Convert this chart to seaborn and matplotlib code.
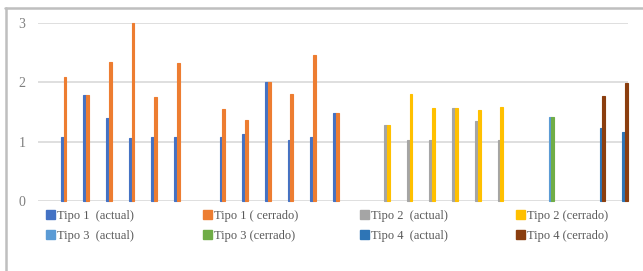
import matplotlib
matplotlib.use("Agg")
import matplotlib.pyplot as plt
from matplotlib.lines import Line2D
from matplotlib.patches import Patch
import numpy as np
import pandas as pd
import seaborn as sns

# 26 categories on the x axis (no tick labels in the original)
categories = [str(i) for i in range(1, 27)]

series = [
    "Tipo 1  (actual)", "Tipo 1 ( cerrado)", "Tipo 2  (actual)", "Tipo 2 (cerrado)",
    "Tipo 3  (actual)", "Tipo 3 (cerrado)", "Tipo 4  (actual)", "Tipo 4 (cerrado)",
]
colors = ["#4472C4", "#ED7D31", "#A5A5A5", "#FFC000",
          "#5B9BD5", "#70AD47", "#2E75B6", "#8B3E0F"]

N = None
tipo1_actual = [N, 1.07, 1.79, 1.40, 1.06, 1.07, 1.07, N, 1.08, 1.13, 2.01, 1.03, 1.08, 1.48,
                N, N, N, N, N, N, N, N, N, N, N, N]
tipo1_cerrado = [N, 2.09, 1.79, 2.34, 3.00, 1.75, 2.32, N, 1.55, 1.36, 2.01, 1.80, 2.45, 1.48,
                 N, N, N, N, N, N, N, N, N, N, N, N]
tipo2_actual = [N, N, N, N, N, N, N, N, N, N, N, N, N, N,
                N, 1.28, 1.03, 1.03, 1.57, 1.35, 1.03, N, N, N, N, N]
tipo2_cerrado = [N, N, N, N, N, N, N, N, N, N, N, N, N, N,
                 N, 1.28, 1.80, 1.56, 1.57, 1.53, 1.59, N, N, N, N, N]
tipo3_actual = [N] * 22 + [1.41] + [N] * 3
tipo3_cerrado = [N] * 22 + [1.41] + [N] * 3
tipo4_actual = [N] * 24 + [1.23, 1.16]
tipo4_cerrado = [N] * 24 + [1.76, 1.99]

values = [tipo1_actual, tipo1_cerrado, tipo2_actual, tipo2_cerrado,
          tipo3_actual, tipo3_cerrado, tipo4_actual, tipo4_cerrado]

rows = []
for name, vals in zip(series, values):
    for cat, v in zip(categories, vals):
        if v is not None:
            rows.append({"cat": cat, "serie": name, "value": v})
df = pd.DataFrame(rows)

sns.set_theme(style="white")
plt.rcParams["font.family"] = ["Liberation Serif", "DejaVu Serif"]

fig = plt.figure(figsize=(6.43, 2.71), dpi=100)
ax = fig.add_axes([38 / 643, 70 / 271, 590 / 643, 178.3 / 271])

sns.barplot(data=df, x="cat", y="value", hue="serie", order=categories,
            hue_order=series, palette=colors, saturation=1, width=1.0,
            dodge=True, errorbar=None, legend=False, ax=ax)

for p in ax.patches:
    p.set_edgecolor(p.get_facecolor())
    p.set_linewidth(0.8)
    p.set_clip_on(False)

ax.set_xlim(-0.5, len(categories) - 0.5)
ax.set_ylim(0, 3)
ax.set_yticks([0, 1, 2, 3])
ax.set_xticks([])
ax.set_xlabel("")
ax.set_ylabel("")
ax.yaxis.grid(True, color="#d9d9d9", linewidth=1.2)
ax.set_axisbelow(True)
for s in ["top", "right", "left", "bottom"]:
    ax.spines[s].set_visible(False)
ax.tick_params(axis="y", length=0, pad=9, labelsize=10, labelcolor="#7f7f7f")

# legend: 4 evenly spaced columns, 2 rows
handles = [Patch(facecolor=c, edgecolor=c) for c in colors]
col_x = [46, 203, 360, 516]
for j, x in enumerate(col_x):
    fig.legend([handles[j], handles[j + 4]], [series[j], series[j + 4]],
               loc="upper left", bbox_to_anchor=(x / 643, 1 - 210 / 271),
               frameon=False, fontsize=9, labelcolor="#595959",
               handlelength=0.75, handleheight=0.75, handletextpad=0.1,
               borderpad=0, borderaxespad=0, labelspacing=0.65)

# outer chart frame (only top and left edges visible in the crop)
fig.add_artist(Line2D([5 / 643, 1], [1 - 7.7 / 271, 1 - 7.7 / 271],
                      transform=fig.transFigure, color="#bfbfbf", linewidth=1.8))
fig.add_artist(Line2D([6 / 643, 6 / 643], [0, 1 - 7.7 / 271],
                      transform=fig.transFigure, color="#bfbfbf", linewidth=1.8))

fig.savefig("out.png", dpi=100)
